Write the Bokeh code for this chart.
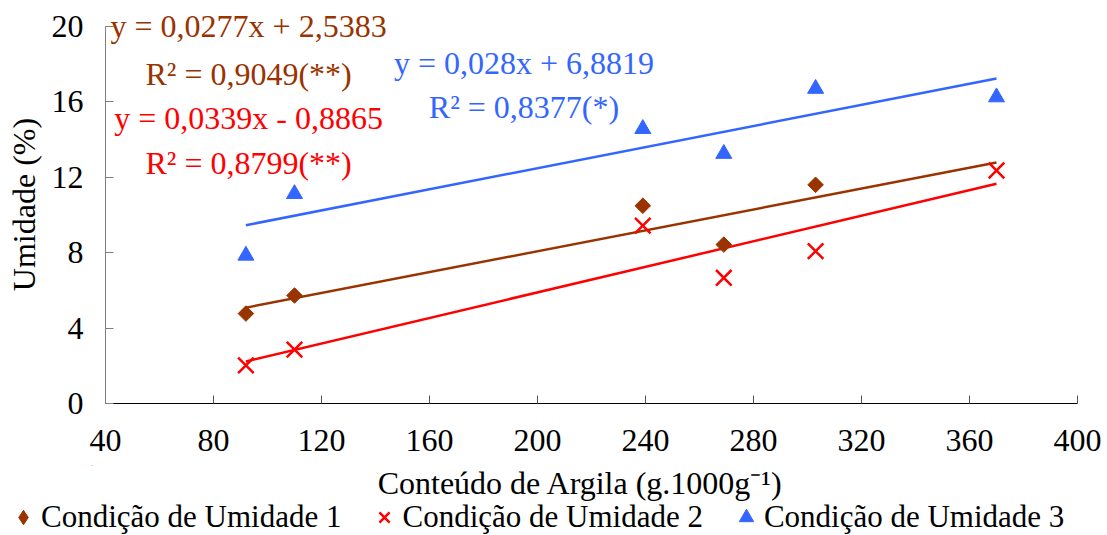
import math
from bokeh.plotting import figure
from bokeh.models import Range1d, Label, Legend, LegendItem, FixedTicker, ColumnDataSource
from bokeh.embed import file_html
from bokeh.resources import INLINE

# ---- data ----
argila = [92, 110, 239, 269, 303, 370]
umid1 = [4.77, 5.73, 10.49, 8.43, 11.6, float("nan")]
umid2 = [2.02, 2.86, 9.44, 6.67, 8.08, 12.36]
umid3 = [7.85, 11.12, 14.57, 13.25, 16.7, 16.25]

slope = [0.0277, 0.0339, 0.028]
intercept = [2.5383, -0.8865, 6.8819]
eq_texts = ["y = 0,0277x + 2,5383", "y = 0,0339x - 0,8865", "y = 0,028x + 6,8819"]
r2_texts = ["R² = 0,9049(**)", "R² = 0,8799(**)", "R² = 0,8377(*)"]
series_names = ["Condição de Umidade 1", "Condição de Umidade 2", "Condição de Umidade 3"]
x_ticks = [40, 80, 120, 160, 200, 240, 280, 320, 360, 400]
y_ticks = [0, 4, 8, 12, 16, 20]
x_title = "Conteúdo de Argila (g.1000g⁻¹)"
y_title = "Umidade (%)"

C1 = "#993300"
C2 = "#FF0000"
C3 = "#3366FF"
FONT = "Liberation Serif"

W = 1107
H_MAIN = 465
H_STRIP = 535 - H_MAIN
Y_TOP = 20 * 398 / 377  # head-room above the axis end for the top equation

p = figure(width=W, height=H_MAIN, output_backend="svg", toolbar_location=None,
           x_range=Range1d(40, 400), y_range=Range1d(0, Y_TOP))
p.min_border_left = 105
p.min_border_right = 30
p.min_border_top = 5
p.min_border_bottom = H_MAIN - 403
p.outline_line_color = None
p.grid.visible = False
p.background_fill_color = "white"
p.border_fill_color = "white"

for ax, ticks in ((p.xaxis[0], x_ticks), (p.yaxis[0], y_ticks)):
    ax.ticker = FixedTicker(ticks=ticks)
    ax.minor_tick_line_color = None
    ax.major_tick_in = 8
    ax.major_tick_out = 0
    ax.major_label_text_font = FONT
    ax.major_label_text_font_size = "32px"
    ax.major_label_text_color = "black"
    ax.axis_label_text_font = FONT
    ax.axis_label_text_font_size = "32px"
    ax.axis_label_text_font_style = "normal"
    ax.axis_label_text_color = "black"

p.yaxis.axis_label = y_title
p.xaxis.axis_line_color = "black"
p.xaxis.major_tick_line_color = "#555555"
p.xaxis.major_label_standoff = 26
p.yaxis.axis_line_color = "#7f7f7f"
p.yaxis.major_tick_line_color = "#7f7f7f"
p.yaxis.major_label_standoff = 22
p.yaxis.axis_label_standoff = 7
p.yaxis.bounds = (0, 20)

# trend lines
xmin, xmax = min(argila), max(argila)
cols = [C1, C2, C3]
for s, b, c in zip(slope, intercept, cols):
    p.line([xmin, xmax], [s * xmin + b, s * xmax + b], line_color=c, line_width=2.5)

src = ColumnDataSource(dict(x=argila, u1=umid1, u2=umid2, u3=umid3))
p.scatter("x", "u1", source=src, marker="square", angle=math.pi / 4, size=11,
          fill_color=C1, line_color=C1)
p.scatter("x", "u3", source=src, marker="triangle", size=16, fill_color=C3, line_color=C3)
p.scatter("x", "u2", source=src, marker="x", size=22, line_color=C2, line_width=2.5)

# equation labels (centered)
eq_pos = [(93, 20.05, 17.5), (93, 15.17, 12.78), (195, 18.09, 15.75)]
for (cx, ye, yr), e, r, c in zip(eq_pos, eq_texts, r2_texts, cols):
    for txt, yy in ((e, ye), (r, yr)):
        p.add_layout(Label(x=cx, y=yy, text=txt, text_align="center", text_baseline="middle",
                           text_font=FONT, text_font_size="32px", text_color=c))

# ---- strip below: x-axis title + legend (pixel-like ranges, data kept out of view) ----
lg = figure(width=W, height=H_STRIP, output_backend="svg", toolbar_location=None,
            x_range=Range1d(0, W), y_range=Range1d(-H_STRIP, 0),
            x_axis_location=None, y_axis_location=None)
lg.min_border = 0
lg.min_border_left = 0
lg.min_border_right = 0
lg.min_border_top = 0
lg.min_border_bottom = 0
lg.outline_line_color = None
lg.grid.visible = False
lg.background_fill_color = "white"
lg.border_fill_color = "white"

lg.add_layout(Label(x=580, y=-17, text=x_title, text_align="center",
                    text_baseline="middle", text_font=FONT, text_font_size="32px",
                    text_color="black"))

# legend renderers share the chart data; their points lie outside this strip's range
l1 = lg.scatter("x", "u1", source=src, marker="diamond", fill_color=C1, line_color=C1)
l2 = lg.scatter("x", "u2", source=src, marker="x", line_color=C2, line_width=2.5)
l3 = lg.scatter("x", "u3", source=src, marker="triangle", fill_color=C3, line_color=C3)
legend = Legend(items=[LegendItem(label=series_names[0], renderers=[l1]),
                       LegendItem(label=series_names[1], renderers=[l2]),
                       LegendItem(label=series_names[2], renderers=[l3])],
                orientation="horizontal", location=(5, 0),
                label_text_font=FONT, label_text_font_size="31px", label_text_color="black",
                glyph_width=36, glyph_height=36, label_standoff=0, spacing=25,
                padding=0, margin=0, border_line_color=None, background_fill_alpha=0)
lg.add_layout(legend, "center")

open("out.html", "w").write(file_html([p, lg], INLINE))
